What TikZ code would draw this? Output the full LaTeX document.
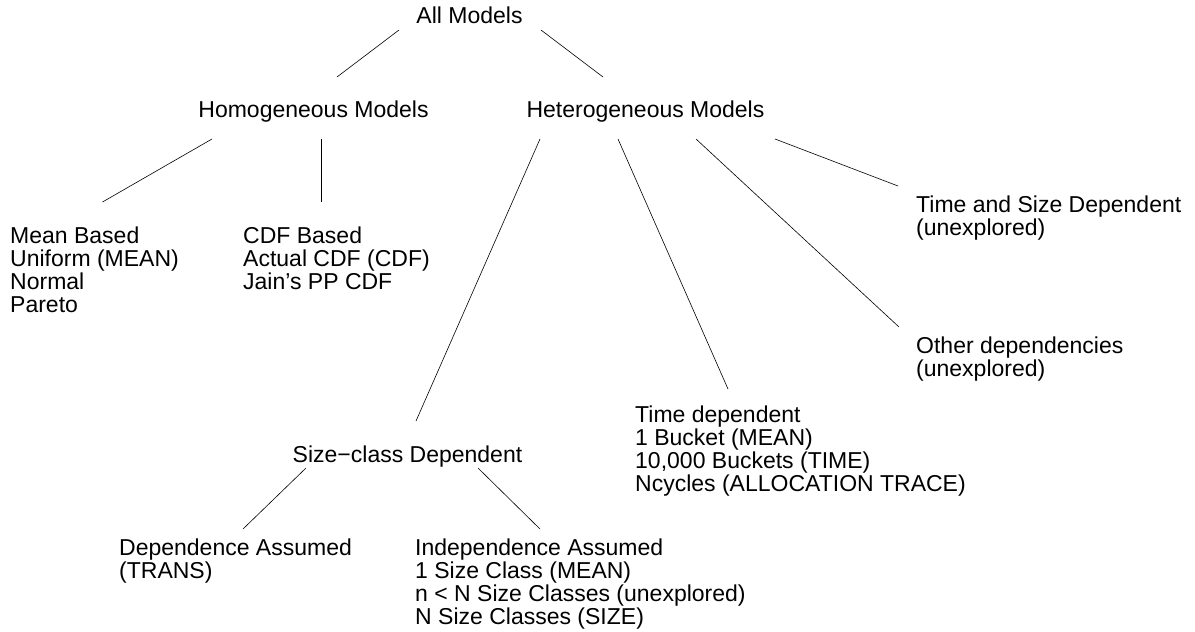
\documentclass[tikz,border=0pt]{standalone}
\usepackage{fontspec}
\setmainfont{Liberation Sans}
\usepackage{tikz}

\tikzset{
  lbl/.style={inner sep=0pt, font=\fontsize{23}{23}\selectfont},
  blk/.style={lbl, align=left, anchor=north west},
  edge/.style={line width=0.6pt}
}

\begin{document}
\begin{tikzpicture}[x=1pt,y=-1pt]
\useasboundingbox (0,0) rectangle (1195,632);

\node [lbl,anchor=base] (allm) at (469.5,23) {All Models};
\node [lbl,anchor=base] (homog) at (313.5,117) {Homogeneous Models};
\node [lbl,anchor=base] (hetero) at (645.5,117) {Heterogeneous Models};
\node [blk] (meanb) at (10,226.4) {Mean Based\\Uniform (MEAN)\\Normal\\Pareto};
\node [blk] (cdfb) at (243,226.4) {CDF Based\\Actual CDF (CDF)\\Jain’s PP CDF};
\node [blk] (timesize) at (916,195.4) {Time and Size Dependent\\(unexplored)};
\node [blk] (otherdep) at (916,336.4) {Other dependencies\\(unexplored)};
\node [blk] (timedep) at (635,405.4) {Time dependent\\1 Bucket (MEAN)\\10,000 Buckets (TIME)\\Ncycles (ALLOCATION TRACE)};
\node [lbl,anchor=base] (sizecls) at (407.5,462) {Size−class Dependent};
\node [blk] (depass) at (119,538.4) {Dependence Assumed\\(TRANS)};
\node [blk] (indepass) at (415,538.4) {Independence Assumed\\1 Size Class (MEAN)\\n < N Size Classes (unexplored)\\N Size Classes (SIZE)};

\coordinate (allm-a) at (399,30);
\coordinate (allm-b) at (541,30);
\coordinate (homog-t) at (337,77);
\coordinate (hetero-t) at (603,77);
\coordinate (homog-a) at (212,139);
\coordinate (homog-b) at (321,139);
\coordinate (meanb-t) at (102.5,202);
\coordinate (cdfb-t) at (321,202);
\coordinate (hetero-a) at (540,139);
\coordinate (hetero-b) at (618,139);
\coordinate (hetero-c) at (696,139);
\coordinate (hetero-d) at (775,139);
\coordinate (sizecls-t) at (416,421);
\coordinate (timedep-t) at (728,389);
\coordinate (otherdep-t) at (899,327);
\coordinate (timesize-t) at (898,186);
\coordinate (sizecls-a) at (306,468);
\coordinate (sizecls-b) at (478,468);
\coordinate (depass-t) at (243,529);
\coordinate (indepass-t) at (540,529);

\draw [edge] (allm-a) -- (homog-t);
\draw [edge] (allm-b) -- (hetero-t);
\draw [edge] (homog-a) -- (meanb-t);
\draw [edge] (homog-b) -- (cdfb-t);
\draw [edge] (hetero-a) -- (sizecls-t);
\draw [edge] (hetero-b) -- (timedep-t);
\draw [edge] (hetero-c) -- (otherdep-t);
\draw [edge] (hetero-d) -- (timesize-t);
\draw [edge] (sizecls-a) -- (depass-t);
\draw [edge] (sizecls-b) -- (indepass-t);

\end{tikzpicture}
\end{document}
